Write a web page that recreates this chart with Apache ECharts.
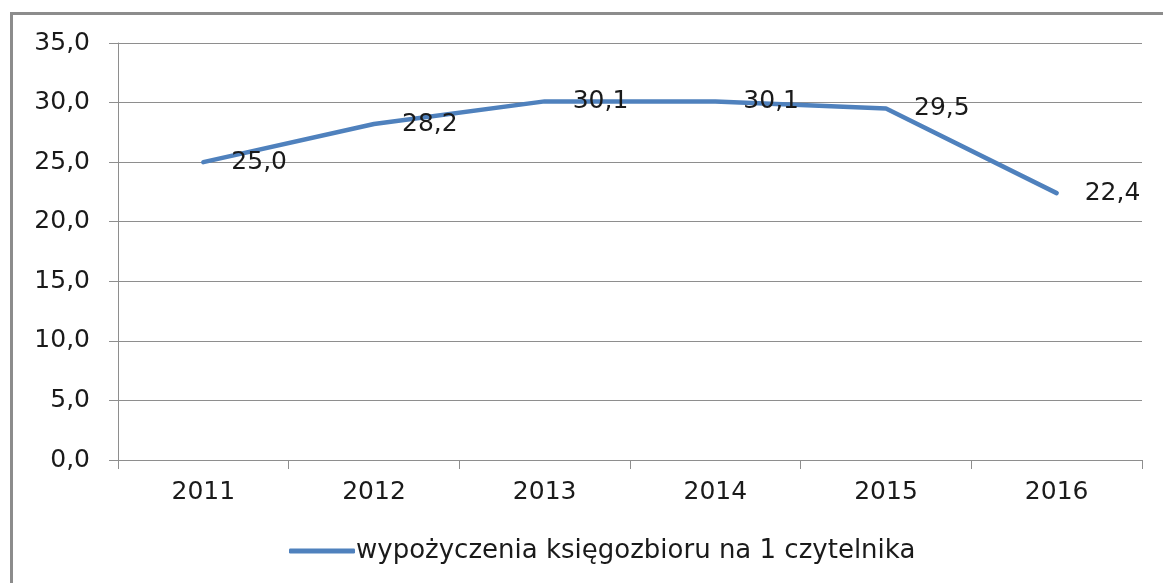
<!DOCTYPE html>
<html>
<head>
<meta charset="utf-8">
<script src="https://cdn.jsdelivr.net/npm/echarts@6/dist/echarts.min.js"></script>
<style>
  html, body { margin: 0; padding: 0; background: #fff; overflow: hidden; width: 1163px; height: 583px; }
  #frame {
    position: absolute; left: 10px; top: 12px; width: 1150px; height: 571px;
    border-left: 3px solid #8c8c8c; border-top: 3px solid #8c8c8c;
  }
  #chart { position: absolute; left: 0; top: 0; width: 1163px; height: 583px; }
</style>
</head>
<body>
<div id="frame"></div>
<div id="chart"></div>
<script>
const years = ['2011', '2012', '2013', '2014', '2015', '2016']
const loansPerReader = [25.0, 28.2, 30.1, 30.1, 29.5, 22.4]
const seriesName = 'wypożyczenia księgozbioru na 1 czytelnika'

const fmt = v => Number(v).toFixed(1).replace('.', ',')
const font = 'DejaVu Sans'
const gridColor = '#8e8e8e'

const chart = echarts.init(document.getElementById('chart'))
chart.setOption({
  animation: false,
  textStyle: { fontFamily: font },
  grid: { left: 118, right: 21, top: 43, bottom: 123 },
  legend: {
    bottom: 14,
    left: 284,
    itemWidth: 66,
    itemHeight: 5,
    itemGap: 4,
    icon: 'roundRect',
    textStyle: { fontFamily: font, fontSize: 26, color: '#1a1a1a', padding: [0, 0, 0, -4] },
    data: [seriesName]
  },
  xAxis: {
    type: 'category',
    data: years,
    boundaryGap: true,
    axisLine: { lineStyle: { color: gridColor, width: 1 } },
    axisTick: { show: true, length: 9, lineStyle: { color: gridColor } },
    axisLabel: { fontFamily: font, fontSize: 25, color: '#1a1a1a', margin: 20 }
  },
  yAxis: {
    type: 'value',
    min: 0,
    max: 35,
    interval: 5,
    axisLine: { show: true, lineStyle: { color: gridColor, width: 1 } },
    axisTick: { show: true, length: 9, lineStyle: { color: gridColor } },
    splitLine: { lineStyle: { color: gridColor, width: 1 } },
    axisLabel: { fontFamily: font, fontSize: 25, color: '#1a1a1a', margin: 28, formatter: fmt }
  },
  series: [{
    name: seriesName,
    type: 'line',
    data: loansPerReader,
    symbol: 'circle',
    symbolSize: 0,
    showSymbol: true,
    lineStyle: { color: '#4f81bd', width: 4.5, cap: 'round' },
    itemStyle: { color: '#4f81bd' },
    label: {
      show: true,
      position: 'right',
      distance: 28,
      fontFamily: font,
      fontSize: 25,
      color: '#1a1a1a',
      formatter: p => fmt(p.value)
    }
  }]
})
</script>
</body>
</html>
